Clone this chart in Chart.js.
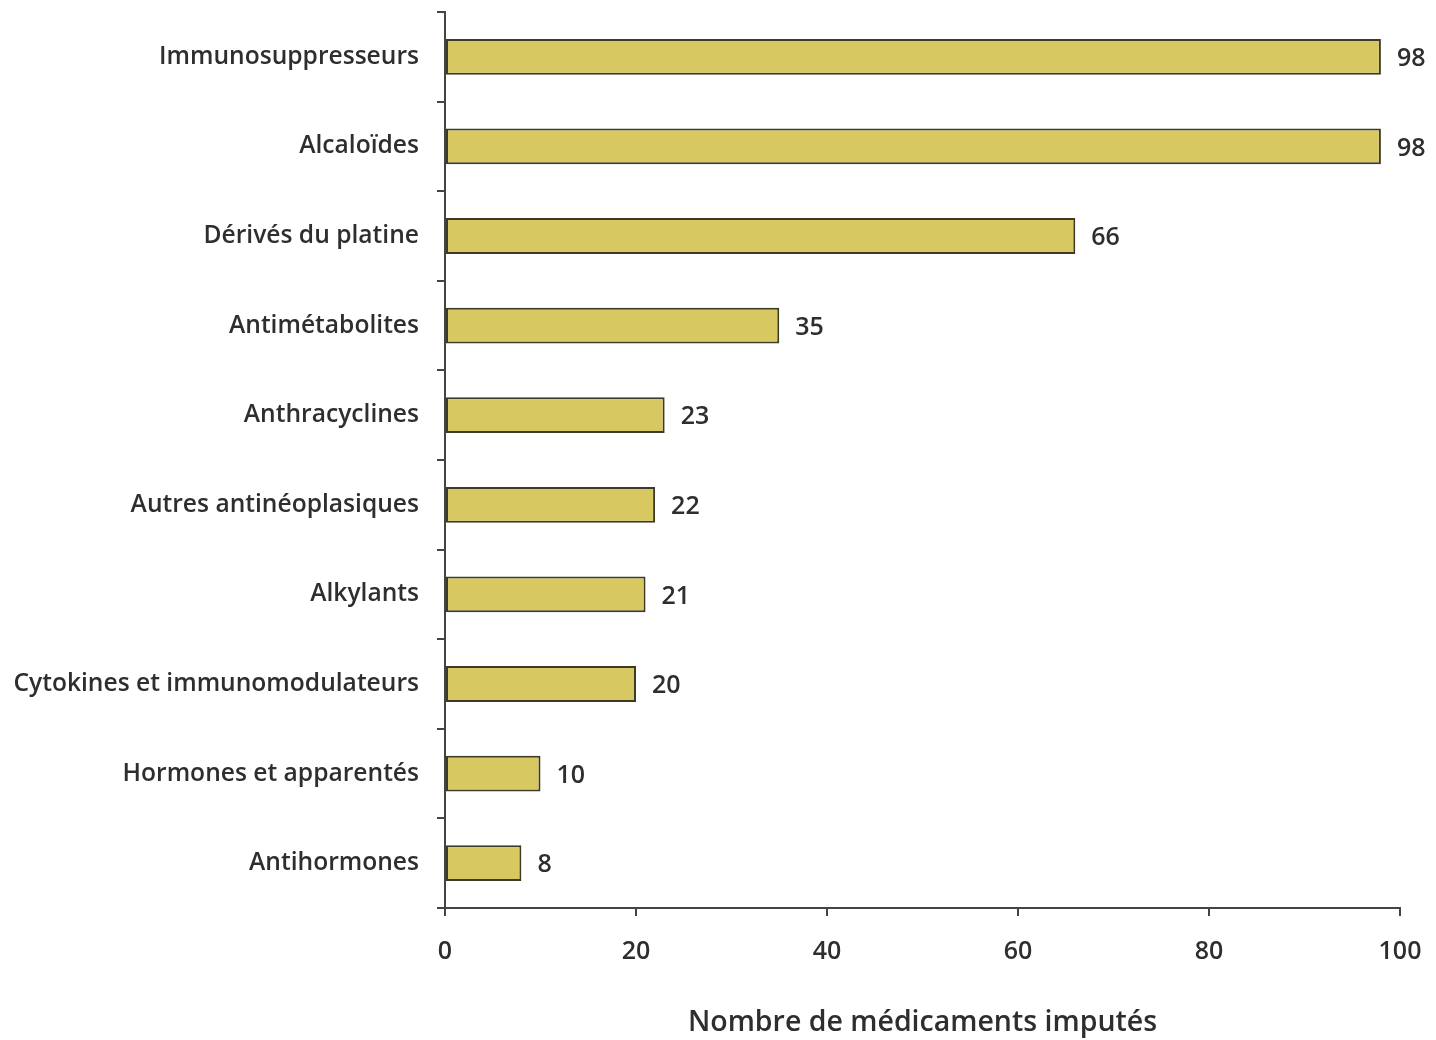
<!DOCTYPE html>
<html>
<head>
<meta charset="utf-8">
<script src="https://cdn.jsdelivr.net/npm/chart.js@4.4.1/dist/chart.umd.min.js"></script>
<style>
html,body{margin:0;padding:0;background:#fff;}
#wrap{width:1436px;height:1040px;position:relative;}
</style>
</head>
<body>
<div id="wrap"><canvas id="c" width="1436" height="1040"></canvas></div>
<script>
const categories = [
  "Immunosuppresseurs",
  "Alcaloïdes",
  "Dérivés du platine",
  "Antimétabolites",
  "Anthracyclines",
  "Autres antinéoplasiques",
  "Alkylants",
  "Cytokines et immunomodulateurs",
  "Hormones et apparentés",
  "Antihormones"
];
const values = [98, 98, 66, 35, 23, 22, 21, 20, 10, 8];
const xTicks = [0, 20, 40, 60, 80, 100];
const axisTitle = "Nombre de médicaments imputés";

const FONT = "'Open Sans', sans-serif";
const TEXT = "#2e2e2e";

const valueLabels = {
  id: 'valueLabels',
  afterDatasetsDraw(chart) {
    const ctx = chart.ctx;
    const meta = chart.getDatasetMeta(0);
    ctx.save();
    ctx.font = "600 25px " + FONT;
    ctx.fillStyle = TEXT;
    ctx.textBaseline = 'middle';
    ctx.textAlign = 'left';
    meta.data.forEach((bar, i) => {
      ctx.fillText(String(values[i]), bar.x + 16, bar.y + 2);
    });
    ctx.restore();
  }
};

new Chart(document.getElementById('c'), {
  type: 'bar',
  data: {
    labels: categories,
    datasets: [{
      data: values,
      backgroundColor: '#d8c862',
      borderColor: '#3d3a2a',
      borderWidth: 2,
      borderSkipped: false,
      categoryPercentage: 1,
      barPercentage: 0.4
    }]
  },
  options: {
    indexAxis: 'y',
    responsive: false,
    animation: false,
    devicePixelRatio: 1,
    layout: { padding: { top: 12, right: 36, left: 0, bottom: 0 } },
    plugins: { legend: { display: false }, tooltip: { enabled: false } },
    scales: {
      x: {
        type: 'linear',
        min: 0, max: 100,
        afterBuildTicks(scale) { scale.ticks = xTicks.map(v => ({ value: v })); },
        afterFit(scale) { scale.height = 132; scale.paddingLeft = 0; scale.paddingRight = 0; },
        grid: { drawOnChartArea: false, drawTicks: true, tickLength: 8, color: '#444', lineWidth: 2 },
        border: { display: true, color: '#444', width: 2 },
        ticks: { color: TEXT, font: { family: FONT, size: 25, weight: '600' }, padding: 21 },
        title: { display: true, text: axisTitle, color: TEXT, font: { family: FONT, size: 28.5, weight: '600' }, padding: { top: 30, bottom: 0 } }
      },
      y: {
        type: 'category',
        offset: true,
        afterFit(scale) { scale.width = 445; scale.paddingTop = 0; scale.paddingBottom = 0; },
        grid: { offset: true, drawOnChartArea: false, drawTicks: true, tickLength: 8, color: '#444', lineWidth: 2 },
        border: { display: true, color: '#444', width: 2 },
        ticks: { color: TEXT, font: { family: FONT, size: 24.6, weight: '600' }, padding: 18 }
      }
    }
  },
  plugins: [valueLabels]
});
</script>
</body>
</html>
